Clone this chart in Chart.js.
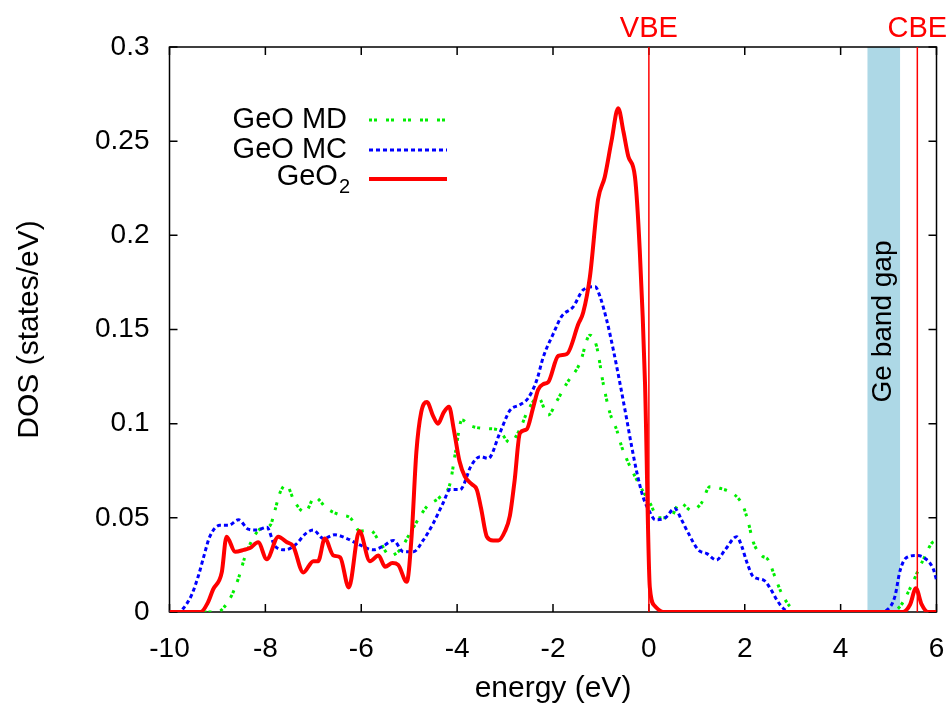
<!DOCTYPE html>
<html>
<head>
<meta charset="utf-8">
<script src="https://cdn.jsdelivr.net/npm/chart.js@4.4.1/dist/chart.umd.min.js"></script>
<style>
  html, body { margin: 0; padding: 0; background: #fff; }
</style>
</head>
<body>
<canvas id="dos" width="949" height="704"></canvas>
<script>
// GeO MD (green, dash-dot style)
const mdEnergy = [-10, -9.0, -8.88, -8.70, -8.56, -8.43, -8.32, -8.11, -7.90, -7.80, -7.70, -7.57, -7.38, -7.17, -6.97, -6.72, -6.44, -6.23, -6.03, -5.82, -5.61, -5.40, -5.19, -4.98, -4.63, -4.36, -4.15, -4.04, -3.90, -3.73, -3.45, -3.14, -2.90, -2.69, -2.55, -2.31, -2.10, -1.92, -1.71, -1.44, -1.23, -1.09, -0.95, -0.81, -0.67, -0.57, -0.46, -0.29, -0.12, 0.02, 0.20, 0.44, 0.65, 0.89, 1.10, 1.27, 1.48, 1.80, 1.97, 2.07, 2.18, 2.35, 2.49, 2.63, 2.77, 2.94, 3.1, 5.0, 5.24, 5.45, 5.59, 5.72, 5.90, 6.0];
const mdDos = [0, 0, 0.002, 0.009, 0.018, 0.029, 0.036, 0.044, 0.046, 0.054, 0.063, 0.0675, 0.058, 0.053, 0.061, 0.055, 0.0515, 0.050, 0.043, 0.0435, 0.037, 0.030, 0.033, 0.042, 0.056, 0.061, 0.068, 0.084, 0.102, 0.099, 0.0975, 0.0966, 0.090, 0.097, 0.1055, 0.114, 0.1046, 0.112, 0.1215, 0.132, 0.147, 0.141, 0.121, 0.1055, 0.0966, 0.088, 0.081, 0.072, 0.064, 0.058, 0.050, 0.050, 0.058, 0.054, 0.058, 0.0665, 0.0657, 0.062, 0.056, 0.048, 0.037, 0.030, 0.0276, 0.0187, 0.0099, 0.003, 0, 0, 0.003, 0.0126, 0.0205, 0.0276, 0.0365, 0.038];

// GeO MC (blue, dotted)
const mcEnergy = [-10, -9.8, -9.71, -9.54, -9.40, -9.29, -9.16, -8.95, -8.77, -8.56, -8.36, -8.18, -7.97, -7.80, -7.59, -7.38, -7.14, -7.0, -6.79, -6.55, -6.30, -6.03, -5.75, -5.54, -5.33, -5.12, -4.91, -4.71, -4.50, -4.29, -4.15, -3.94, -3.70, -3.52, -3.35, -3.11, -2.90, -2.69, -2.52, -2.34, -2.20, -1.99, -1.82, -1.58, -1.37, -1.12, -1.02, -0.88, -0.74, -0.60, -0.46, -0.36, -0.25, -0.12, 0.02, 0.13, 0.34, 0.54, 0.68, 0.82, 1.03, 1.21, 1.41, 1.59, 1.83, 1.94, 2.04, 2.18, 2.39, 2.53, 2.67, 2.80, 2.95, 4.8, 4.96, 5.13, 5.24, 5.38, 5.59, 5.76, 5.93, 6.0];
const mcDos = [0, 0, 0.002, 0.009, 0.019, 0.029, 0.040, 0.046, 0.046, 0.049, 0.044, 0.0435, 0.045, 0.035, 0.033, 0.0356, 0.042, 0.0435, 0.039, 0.041, 0.039, 0.0356, 0.033, 0.035, 0.038, 0.032, 0.032, 0.038, 0.047, 0.058, 0.065, 0.065, 0.078, 0.0825, 0.0816, 0.095, 0.107, 0.110, 0.1135, 0.123, 0.1356, 0.148, 0.157, 0.162, 0.171, 0.1727, 0.1675, 0.155, 0.139, 0.121, 0.102, 0.088, 0.074, 0.061, 0.053, 0.049, 0.050, 0.055, 0.049, 0.042, 0.033, 0.031, 0.0276, 0.033, 0.040, 0.0347, 0.0267, 0.0187, 0.017, 0.0126, 0.0064, 0.002, 0, 0, 0.001, 0.008, 0.022, 0.029, 0.030, 0.0285, 0.023, 0.017];

// GeO2 (red, solid)
const geo2Energy = [-10, -9.35, -9.2, -9.09, -8.91, -8.81, -8.63, -8.45, -8.32, -8.15, -7.97, -7.73, -7.55, -7.42, -7.21, -7.0, -6.9, -6.76, -6.58, -6.44, -6.26, -6.04, -5.82, -5.64, -5.5, -5.35, -5.23, -5.05, -4.95, -4.85, -4.75, -4.63, -4.5, -4.4, -4.28, -4.17, -4.07, -3.95, -3.84, -3.7, -3.59, -3.5, -3.38, -3.25, -3.14, -3.0, -2.9, -2.8, -2.69, -2.55, -2.42, -2.31, -2.2, -2.1, -1.89, -1.71, -1.47, -1.37, -1.23, -1.06, -0.92, -0.78, -0.64, -0.53, -0.43, -0.29, -0.19, -0.08, 0.02, 0.13, 0.3, 5.3, 5.45, 5.57, 5.69, 5.82, 6];
const geo2Dos = [0, 0, 0.005, 0.012, 0.021, 0.040, 0.032, 0.033, 0.034, 0.037, 0.028, 0.040, 0.037, 0.035, 0.021, 0.027, 0.027, 0.039, 0.030, 0.029, 0.013, 0.043, 0.027, 0.030, 0.024, 0.026, 0.025, 0.016, 0.04, 0.085, 0.106, 0.1115, 0.104, 0.100, 0.106, 0.109, 0.097, 0.080, 0.072, 0.068, 0.065, 0.055, 0.040, 0.038, 0.038, 0.043, 0.051, 0.07, 0.095, 0.097, 0.108, 0.118, 0.121, 0.122, 0.136, 0.137, 0.153, 0.159, 0.178, 0.219, 0.231, 0.250, 0.2675, 0.255, 0.242, 0.231, 0.192, 0.121, 0.013, 0.003, 0, 0, 0.004, 0.0126, 0.004, 0, 0];

// band edges and Ge gap (eV)
const vbe = 0;
const cbe = 5.6;
const bandGap = [4.56, 5.24];

const xTicks = [-10, -8, -6, -4, -2, 0, 2, 4, 6];
const yTicks = [0, 0.05, 0.1, 0.15, 0.2, 0.25, 0.3];

const FONT = '"Liberation Sans", Arial, sans-serif';

function pts(xs, ys) {
    return xs.map((x, i) => ({x: x, y: ys[i]}));
}

const gnuFrame = {
    id: 'gnuFrame',
    beforeDatasetsDraw(chart) {
        const {ctx, chartArea: a, scales: {x, y}} = chart;
        const x0 = x.getPixelForValue(bandGap[0]);
        const x1 = x.getPixelForValue(bandGap[1]);
        ctx.save();
        ctx.fillStyle = '#add8e6';
        ctx.fillRect(x0, a.top, x1 - x0, a.bottom - a.top);

        // frame + inward ticks
        ctx.strokeStyle = '#000';
        ctx.lineWidth = 1.5;
        ctx.strokeRect(a.left, a.top, a.right - a.left, a.bottom - a.top);
        ctx.beginPath();
        xTicks.forEach(t => {
            const px = x.getPixelForValue(t);
            ctx.moveTo(px, a.bottom); ctx.lineTo(px, a.bottom - 8);
            ctx.moveTo(px, a.top); ctx.lineTo(px, a.top + 8);
        });
        yTicks.forEach(t => {
            const py = y.getPixelForValue(t);
            ctx.moveTo(a.left, py); ctx.lineTo(a.left + 8, py);
            ctx.moveTo(a.right, py); ctx.lineTo(a.right - 8, py);
        });
        ctx.stroke();

        ctx.translate((x0 + x1) / 2, (a.top + a.bottom) / 2 - 8);
        ctx.rotate(-Math.PI / 2);
        ctx.font = '28px ' + FONT;
        ctx.fillStyle = '#000';
        ctx.textAlign = 'center';
        ctx.textBaseline = 'middle';
        ctx.fillText('Ge band gap', 0, 0);
        ctx.restore();
    },
    afterDatasetsDraw(chart) {
        const {ctx, chartArea: a, scales: {x}} = chart;
        ctx.save();
        // VBE / CBE markers
        ctx.strokeStyle = '#ff0000';
        ctx.fillStyle = '#ff0000';
        ctx.lineWidth = 1.5;
        ctx.font = '29px ' + FONT;
        ctx.textAlign = 'center';
        ctx.textBaseline = 'alphabetic';
        [[vbe, 'VBE'], [cbe, 'CBE']].forEach(([e, label]) => {
            const px = x.getPixelForValue(e);
            ctx.beginPath();
            ctx.moveTo(px, a.top); ctx.lineTo(px, a.bottom);
            ctx.stroke();
            ctx.fillText(label, px, 37);
        });

        // legend
        const rows = [
            {y: 120, ds: chart.data.datasets[2]},
            {y: 150, ds: chart.data.datasets[1]},
            {y: 179, ds: chart.data.datasets[0]}
        ];
        ctx.fillStyle = '#000';
        ctx.textBaseline = 'middle';
        ctx.textAlign = 'right';
        rows.forEach(r => {
            if (r.ds.label === 'GeO2') {
                ctx.font = '20px ' + FONT;
                const w2 = ctx.measureText('2').width;
                ctx.textAlign = 'left';
                ctx.fillText('2', 350 - w2, r.y + 8);
                ctx.textAlign = 'right';
                ctx.font = '29px ' + FONT;
                ctx.fillText('GeO', 350 - w2 - 1, r.y - 2);
            } else {
                ctx.font = '29px ' + FONT;
                ctx.fillText(r.ds.label, 347, r.y);
            }
            ctx.beginPath();
            ctx.strokeStyle = r.ds.borderColor;
            ctx.lineWidth = r.ds.borderWidth;
            ctx.setLineDash(r.ds.borderDash || []);
            ctx.moveTo(369, r.y); ctx.lineTo(447, r.y);
            ctx.stroke();
        });
        ctx.restore();
    }
};

const ctx = document.getElementById('dos').getContext('2d');
new Chart(ctx, {
    type: 'line',
    data: {
        datasets: [
            {label: 'GeO2', data: pts(geo2Energy, geo2Dos), borderColor: '#ff0000', borderWidth: 4, order: 0},
            {label: 'GeO MC', data: pts(mcEnergy, mcDos), borderColor: '#0000ff', borderWidth: 3, borderDash: [4, 3], order: 1},
            {label: 'GeO MD', data: pts(mdEnergy, mdDos), borderColor: '#00ee00', borderWidth: 3, borderDash: [3, 2, 3, 9], order: 2}
        ]
    },
    options: {
        responsive: false,
        animation: false,
        events: [],
        parsing: false,
        layout: {padding: {top: 47, right: 12.5, left: 0, bottom: 0}},
        elements: {
            point: {radius: 0},
            line: {cubicInterpolationMode: 'monotone', borderCapStyle: 'butt', fill: false}
        },
        plugins: {legend: {display: false}, tooltip: {enabled: false}},
        scales: {
            x: {
                type: 'linear',
                min: -10, max: 6,
                afterFit: s => { s.height = 92; s.paddingLeft = 0; s.paddingRight = 0; },
                afterBuildTicks: s => { s.ticks = xTicks.map(v => ({value: v})); },
                grid: {display: false, drawTicks: false},
                border: {display: false},
                ticks: {color: '#000', padding: 20, font: {family: FONT, size: 28}, maxRotation: 0},
                title: {display: true, text: 'energy (eV)', color: '#000', font: {family: FONT, size: 30, lineHeight: 1}, padding: {top: 0, bottom: 0}}
            },
            y: {
                type: 'linear',
                min: 0, max: 0.3,
                afterFit: s => { s.width = 169.5; s.paddingTop = 0; s.paddingBottom = 0; },
                afterBuildTicks: s => { s.ticks = yTicks.map(v => ({value: v})); },
                grid: {display: false, drawTicks: false},
                border: {display: false},
                ticks: {color: '#000', padding: 20, font: {family: FONT, size: 28}, callback: v => String(Number(v.toFixed(2)))},
                title: {display: true, text: 'DOS (states/eV)', color: '#000', font: {family: FONT, size: 30, lineHeight: 1}, padding: {top: 15, bottom: 0}}
            }
        }
    },
    plugins: [gnuFrame]
});
</script>
</body>
</html>
